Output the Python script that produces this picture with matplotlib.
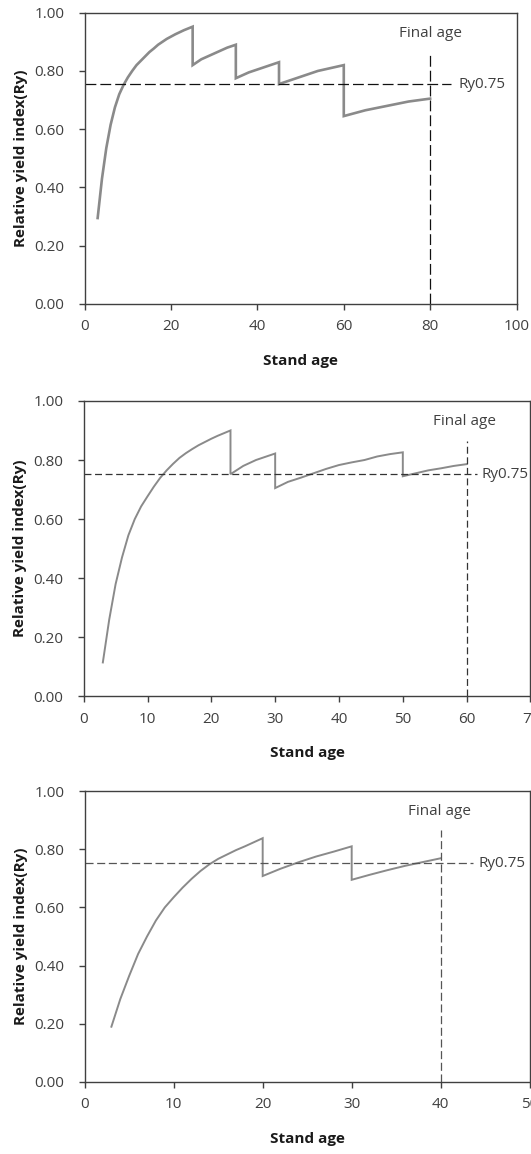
import matplotlib
matplotlib.use("Agg")
import matplotlib.pyplot as plt

plt.rcParams['font.family'] = ['Open Sans', 'DejaVu Sans']
plt.rcParams['lines.scale_dashes'] = False

# stand age / relative yield index, one list per panel (repeated age = thinning drop)
ages1 = [3, 4, 5, 6, 7, 8, 9, 10, 11, 12, 13, 14, 15, 16, 17, 18, 19, 20, 21, 22, 23, 24, 25,
         25, 27, 30, 33, 35,
         35, 38, 41, 45,
         45, 48, 51, 54, 57, 60,
         60, 65, 70, 75, 80]
ry1 = [0.295, 0.43, 0.535, 0.615, 0.675, 0.72, 0.752, 0.778, 0.80, 0.82, 0.835, 0.85, 0.865,
       0.877, 0.89, 0.90, 0.91, 0.918, 0.926, 0.933, 0.94, 0.946, 0.952,
       0.82, 0.84, 0.86, 0.88, 0.89,
       0.775, 0.795, 0.81, 0.83,
       0.755, 0.77, 0.785, 0.80, 0.81, 0.82,
       0.645, 0.665, 0.68, 0.695, 0.705]

ages2 = [3, 4, 5, 6, 7, 8, 9, 10, 11, 12, 13, 14, 15, 16, 17, 18, 19, 20, 21, 22, 23,
         23, 25, 27, 30,
         30, 32, 34, 36, 38, 40, 42, 44, 46, 48, 50,
         50, 52, 54, 56, 58, 60]
ry2 = [0.115, 0.26, 0.38, 0.47, 0.545, 0.60, 0.643, 0.677, 0.71, 0.74, 0.765, 0.787, 0.807,
       0.823, 0.837, 0.85, 0.861, 0.872, 0.882, 0.891, 0.90,
       0.752, 0.78, 0.80, 0.822,
       0.705, 0.726, 0.74, 0.755, 0.77, 0.783, 0.792, 0.80, 0.812, 0.82, 0.826,
       0.745, 0.755, 0.765, 0.772, 0.78, 0.786]

ages3 = [3, 4, 5, 6, 7, 8, 9, 10, 11, 12, 13, 14, 15, 16, 17, 18, 19, 20,
         20, 22, 24, 26, 28, 30,
         30, 32, 34, 36, 38, 40]
ry3 = [0.19, 0.285, 0.365, 0.44, 0.50, 0.555, 0.60, 0.635, 0.668, 0.698, 0.725, 0.748, 0.767,
       0.782, 0.797, 0.81, 0.824, 0.838,
       0.708, 0.733, 0.755, 0.775, 0.792, 0.81,
       0.695, 0.712, 0.728, 0.743, 0.756, 0.769]

xmax = [100, 70, 50]
xstep = [20, 10, 10]
final_age = [80, 60, 40]
ry_level = [0.755, 0.752, 0.752]
yticks = [0.0, 0.2, 0.4, 0.6, 0.8, 1.0]

TXT = '#404040'


def panel(ax, X, Y, xm, step, final, level, lw, dash, dcol, hline_end, ry_x, fa_x):
    ax.plot(X, Y, color='#8a8a8a', lw=lw, solid_joinstyle='miter')
    ax.plot([0, hline_end], [level, level], color=dcol, lw=0.9, linestyle=(0, dash))
    ax.plot([final, final], [0, 0.865], color=dcol, lw=0.9, linestyle=(0, dash))
    ax.text(ry_x, level, 'Ry0.75', fontsize=11, color=TXT, va='center', ha='left')
    ax.text(fa_x, 0.93, 'Final age', fontsize=11, color=TXT, va='center', ha='center')
    ax.set_xlim(0, xm)
    ax.set_ylim(0, 1)
    ax.set_xticks(range(0, xm + 1, step))
    ax.set_yticks(yticks)
    ax.set_yticklabels(['%.2f' % v for v in yticks])
    ax.tick_params(axis='x', direction='out', length=4, width=1, color='#404040',
                   labelsize=11, labelcolor=TXT, pad=7)
    ax.tick_params(axis='y', direction='out', length=4.5, width=1, color='#404040',
                   labelsize=11, labelcolor=TXT, pad=10)
    for s in ax.spines.values():
        s.set_color('#404040')
        s.set_linewidth(1.0)
    ax.set_xlabel('Stand age', fontsize=11, fontweight='bold', color='#1a1a1a', labelpad=14)
    ax.set_ylabel('Relative yield index(Ry)', fontsize=11, fontweight='bold', color='#1a1a1a',
                  labelpad=5)


fig = plt.figure(figsize=(5.31, 11.54), dpi=100)
ax1 = fig.add_axes([0.1595, 0.7366, 0.8132, 0.2524])
ax2 = fig.add_axes([0.1576, 0.3965, 0.8414, 0.2561])
ax3 = fig.add_axes([0.1595, 0.0624, 0.838, 0.2521])

panel(ax1, ages1, ry1, xmax[0], xstep[0], final_age[0], ry_level[0], 1.9, (7.8, 2.9), '#111111', 84.9, 86.6, 80)
panel(ax2, ages2, ry2, xmax[1], xstep[1], final_age[1], ry_level[1], 1.4, (5.0, 2.6), '#333333', 61.6, 62.3, 59.6)
panel(ax3, ages3, ry3, xmax[2], xstep[2], final_age[2], ry_level[2], 1.4, (5.8, 2.6), '#555555', 43.6, 44.2, 39.9)

fig.savefig('out.png', dpi=100)
